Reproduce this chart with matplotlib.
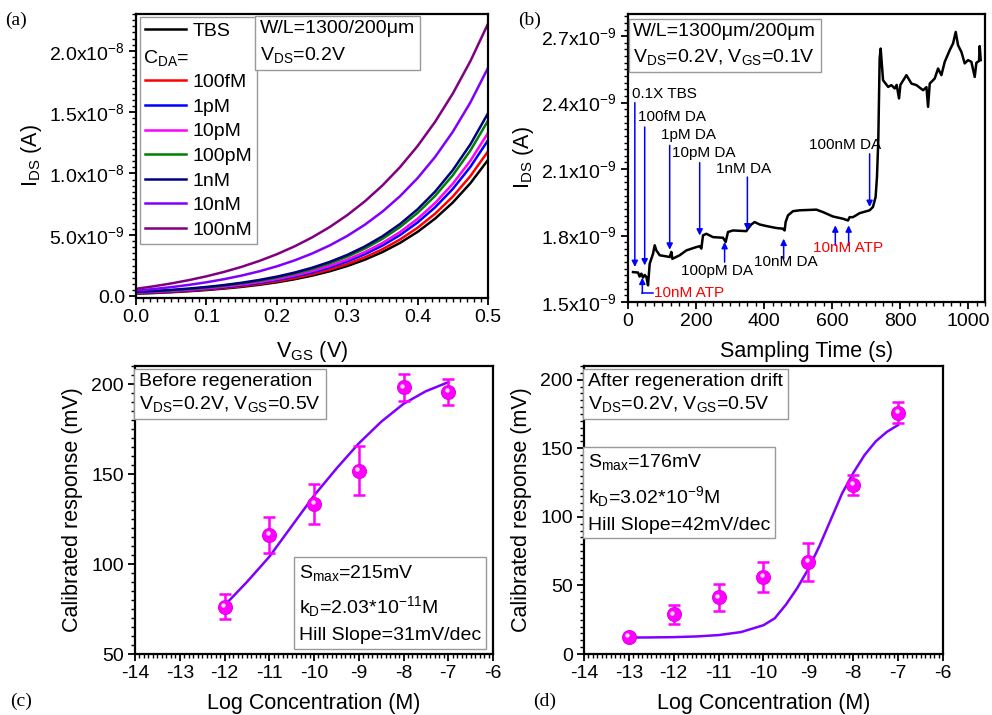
import matplotlib
matplotlib.use('Agg')
import matplotlib.pyplot as plt
from matplotlib.ticker import AutoMinorLocator, FuncFormatter, MultipleLocator
from matplotlib.lines import Line2D
from matplotlib.transforms import offset_copy

plt.rcParams['font.family'] = ['Liberation Sans', 'DejaVu Sans']
plt.rcParams['mathtext.fontset'] = 'custom'
plt.rcParams['mathtext.rm'] = 'Liberation Sans'
plt.rcParams['mathtext.it'] = 'Liberation Sans'
plt.rcParams['mathtext.bf'] = 'Liberation Sans:bold'
plt.rcParams['axes.unicode_minus'] = False

# ---- (a) transfer curves, I_DS in units of 1e-9 A ----
vgs = [0.0, 0.025, 0.05, 0.075, 0.1, 0.125, 0.15, 0.175, 0.2, 0.225, 0.25,
       0.275, 0.3, 0.325, 0.35, 0.375, 0.4, 0.425, 0.45, 0.475, 0.5]
ids_curves = {
    'TBS':   [0.200, 0.256, 0.322, 0.403, 0.500, 0.617, 0.757, 0.926, 1.130, 1.376, 1.671,
              2.027, 2.455, 2.971, 3.593, 4.341, 5.242, 6.327, 7.633, 9.206, 11.100],
    '100fM': [0.220, 0.279, 0.350, 0.436, 0.539, 0.663, 0.812, 0.992, 1.208, 1.469, 1.783,
              2.161, 2.616, 3.164, 3.824, 4.619, 5.576, 6.729, 8.116, 9.788, 11.800],
    '1pM':   [0.250, 0.313, 0.390, 0.482, 0.593, 0.726, 0.886, 1.080, 1.312, 1.593, 1.930,
              2.337, 2.826, 3.416, 4.125, 4.980, 6.009, 7.248, 8.740, 10.537, 12.700],
    '10pM':  [0.280, 0.346, 0.426, 0.522, 0.638, 0.778, 0.946, 1.148, 1.391, 1.684, 2.037,
              2.462, 2.974, 3.591, 4.333, 5.226, 6.302, 7.598, 9.158, 11.038, 13.300],
    '100pM': [0.320, 0.391, 0.477, 0.580, 0.705, 0.854, 1.035, 1.252, 1.513, 1.828, 2.207,
              2.663, 3.213, 3.875, 4.671, 5.631, 6.786, 8.178, 9.853, 11.871, 14.300],
    '1nM':   [0.350, 0.424, 0.513, 0.621, 0.750, 0.906, 1.094, 1.320, 1.592, 1.919, 2.314,
              2.789, 3.361, 4.050, 4.879, 5.877, 7.080, 8.528, 10.272, 12.372, 14.900],
    '10nM':  [0.450, 0.582, 0.737, 0.919, 1.132, 1.384, 1.679, 2.025, 2.432, 2.911, 3.472,
              4.132, 4.908, 5.819, 6.888, 8.145, 9.622, 11.356, 13.394, 15.788, 18.600],
    '100nM': [0.600, 0.803, 1.037, 1.307, 1.618, 1.977, 2.390, 2.868, 3.418, 4.053, 4.785,
              5.629, 6.603, 7.725, 9.020, 10.514, 12.236, 14.222, 16.512, 19.154, 22.200],
}
curve_colors = ['black', '#ff0000', '#0000ff', '#ff00ff', '#008000',
                '#000080', '#8000ff', '#800080']

# ---- (b) real-time trace, current in 1e-9 A ----
trace_t = [14.7, 29.4, 34, 39.2, 44, 49, 53.9, 58.8, 63.7, 73.5, 78.4, 83.3,
           93.1, 112.7, 122.5, 127.4, 130.3, 151.9, 171.5, 200.9, 210.7,
           215.6, 220.5, 230.3, 249.9, 279.3, 287.1, 294, 308.7, 347.9,
           352.8, 362.6, 372.4, 387.1, 406.7, 436.1, 455.7, 460.6, 463.5,
           470.4, 485.1, 504.7, 553.7, 573.3, 602.7, 632.1, 646.8, 651.7,
           661.5, 681.1, 710.5, 720.3, 728.1, 732.1, 736, 740, 743, 750,
           765, 774.6, 784.4, 790, 797, 801, 818.8, 833.5, 848.2, 867.8,
           877.6, 882.4, 887.3, 902, 911.8, 921.6, 931.4, 946.1, 955.9,
           963.7, 970.6, 980.4, 990.2, 1000, 1009.8, 1019.6, 1024.5,
           1032.3, 1034.3, 1037.2]
trace_i = [1.635, 1.633, 1.615, 1.628, 1.610, 1.622, 1.613, 1.575, 1.673,
           1.718, 1.756, 1.733, 1.711, 1.706, 1.703, 1.726, 1.695, 1.711,
           1.733, 1.748, 1.752, 1.741, 1.801, 1.808, 1.793, 1.790, 1.771,
           1.816, 1.823, 1.820, 1.831, 1.850, 1.861, 1.850, 1.843, 1.834,
           1.831, 1.823, 1.861, 1.891, 1.910, 1.914, 1.917, 1.906, 1.886,
           1.876, 1.868, 1.883, 1.883, 1.901, 1.914, 1.929, 1.974, 2.064,
           2.229, 2.600, 2.644, 2.501, 2.471, 2.479, 2.464, 2.480, 2.419,
           2.480, 2.524, 2.486, 2.479, 2.456, 2.470, 2.381, 2.486, 2.509,
           2.554, 2.524, 2.584, 2.637, 2.667, 2.719, 2.659, 2.629, 2.577,
           2.592, 2.584, 2.516, 2.580, 2.588, 2.655, 2.592]

# downward arrows: (time, tail, tip, label, label_t, label_i)
down_arrows = [
    (20, 2.40, 1.658, '0.1X TBS', 11, 2.438),
    (49, 2.29, 1.665, '100fM DA', 28, 2.334),
    (122.5, 2.207, 1.736, '1pM DA', 96, 2.253),
    (210.7, 2.129, 1.800, '10pM DA', 128.5, 2.172),
    (351, 2.064, 1.823, '1nM DA', 258, 2.100),
    (710.5, 2.169, 1.929, '100nM DA', 531, 2.208),
]
# upward arrows: (time, tail, tip)
up_arrows_blue = [(284, 1.680, 1.771), (457.7, 1.695, 1.786)]
up_arrows_red = [(42, 1.539, 1.610), (609.6, 1.756, 1.846), (648.8, 1.756, 1.846)]
up_labels = [('100pM DA', 157, 1.640, 'black'), ('10nM DA', 370, 1.680, 'black'),
             ('10nM ATP', 76.5, 1.541, 'red'), ('10nM ATP', 543, 1.744, 'red')]

# ---- (c) before regeneration ----
c_logc = [-12, -11, -10, -9, -8, -7]
c_resp = [76.3, 116.3, 133.5, 151.9, 198.1, 195.6]
c_err = [7.0, 10.0, 11.0, 13.5, 7.5, 7.3]
c_fit_x = [-12, -11.5, -11, -10.5, -10, -9.5, -9, -8.5, -8, -7.5, -7]
c_fit_y = [77, 90, 104, 121, 138, 153, 167, 179, 189, 196, 201]

# ---- (d) after regeneration drift ----
d_logc = [-13, -12, -11, -10, -9, -8, -7]
d_resp = [12.6, 29.1, 41.3, 56.3, 67.2, 123.3, 176.0]
d_err = [0.0, 7.0, 10.0, 10.8, 13.6, 7.5, 7.5]
d_fit_x = [-13, -12.5, -12, -11.5, -11, -10.5, -10, -9.75, -9.5, -9.25, -9,
           -8.75, -8.5, -8.25, -8, -7.75, -7.5, -7.25, -7]
d_fit_y = [12, 12.1, 12.3, 12.8, 13.8, 16, 21, 26, 36, 48, 62, 79, 98, 117,
           132, 145, 155, 162, 167]

FS = 14
LFS = 15.5
fig = plt.figure(figsize=(9.92, 7.15), dpi=100)
ax_a = fig.add_axes([0.1371, 0.5832, 0.3548, 0.3972])
ax_b = fig.add_axes([0.6331, 0.5776, 0.3599, 0.4028])
ax_c = fig.add_axes([0.1361, 0.0853, 0.3609, 0.4028])
ax_d = fig.add_axes([0.5887, 0.0853, 0.3619, 0.4028])


def style(ax, xminor, yminor):
    for s in ax.spines.values():
        s.set_linewidth(1.6)
    ax.tick_params(which='both', direction='out', top=False, right=False,
                   labelsize=FS, width=1.3, pad=3)
    ax.tick_params(which='major', length=5)
    ax.tick_params(which='minor', length=3, width=1.0)
    ax.xaxis.set_minor_locator(AutoMinorLocator(xminor))
    ax.yaxis.set_minor_locator(AutoMinorLocator(yminor))


box = dict(boxstyle='square,pad=0.25', fc='white', ec='#999999', lw=1)

# (a)
for (name, vals), col in zip(ids_curves.items(), curve_colors):
    ax_a.plot(vgs, [v * 1e-9 for v in vals], color=col, lw=1.8, label=name)
ax_a.set_xlim(0, 0.5)
ax_a.set_ylim(-1.5e-10, 2.3e-8)
ax_a.xaxis.set_major_locator(MultipleLocator(0.1))
ax_a.yaxis.set_major_locator(MultipleLocator(5e-9))
ax_a.yaxis.set_major_formatter(FuncFormatter(
    lambda v, p: '0.0' if abs(v) < 1e-20 else
    (r'%.1fx10$^{-9}$' % (v * 1e9) if v < 9e-9 else r'%.1fx10$^{-8}$' % (v * 1e8))))
ax_a.xaxis.set_major_formatter(FuncFormatter(lambda v, p: '%.1f' % v))
style(ax_a, 10, 10)
ax_a.set_xlabel(r'V$_{GS}$ (V)', fontsize=LFS, labelpad=9)
ax_a.set_ylabel(r'I$_{DS}$ (A)', fontsize=LFS, labelpad=4)
handles, labels = ax_a.get_legend_handles_labels()
blank = Line2D([], [], color='none')
handles = [handles[0], blank] + handles[1:]
labels = [labels[0], r'$\mathregular{C_{DA}}$'] + labels[1:]
leg = ax_a.legend(handles, labels, loc='upper left', bbox_to_anchor=(0.011, 0.989),
                  borderaxespad=0, fontsize=FS, handlelength=2.1, handletextpad=0.35,
                  labelspacing=0.36, borderpad=0.25, fancybox=False, framealpha=1,
                  edgecolor='#999999')
leg.get_frame().set_linewidth(1)
leg.get_texts()[1].set_color('none')
ax_a.text(0.02, 0.845, r'C$_{DA}$=', transform=ax_a.transAxes, fontsize=FS,
          va='center', ha='left', zorder=10)
ax_a.text(0.352, 0.978, 'W/L=1300/200\u03bcm\n' + r'V$_{DS}$=0.2V', transform=ax_a.transAxes,
          fontsize=FS, va='top', ha='left', bbox=box, linespacing=1.5, zorder=6)

# (b)
ax_b.plot(trace_t, [v * 1e-9 for v in trace_i], color='black', lw=1.8)
for t, tail, tip, lab, lt, li in down_arrows:
    ax_b.annotate('', xy=(t, tip * 1e-9), xytext=(t, tail * 1e-9),
                  arrowprops=dict(arrowstyle='-|>', color='blue', lw=1.1,
                                  mutation_scale=9, shrinkA=0, shrinkB=0))
    ax_b.text(lt, li * 1e-9, lab, fontsize=11, ha='left', va='center')
for t, tail, tip in up_arrows_blue + up_arrows_red:
    ax_b.annotate('', xy=(t, tip * 1e-9), xytext=(t, tail * 1e-9),
                  arrowprops=dict(arrowstyle='-|>', color='blue', lw=1.1,
                                  mutation_scale=9, shrinkA=0, shrinkB=0))
ax_b.plot([up_arrows_red[0][0], 74], [up_arrows_red[0][1] * 1e-9] * 2, color='blue', lw=1.1)
for lab, lt, li, col in up_labels:
    ax_b.text(lt, li * 1e-9, lab, fontsize=11, ha='left', va='center', color=col)
ax_b.set_xlim(0, 1050)
ax_b.set_ylim(1.5e-9, 2.8e-9)
ax_b.xaxis.set_major_locator(MultipleLocator(200))
ax_b.yaxis.set_major_locator(MultipleLocator(0.3e-9))
ax_b.yaxis.set_major_formatter(FuncFormatter(lambda v, p: r'%.1fx10$^{-9}$' % (v * 1e9)))
style(ax_b, 8, 10)
ax_b.set_xlabel('Sampling Time (s)', fontsize=LFS, labelpad=8)
ax_b.set_ylabel(r'I$_{DS}$ (A)', fontsize=LFS, labelpad=4)
ax_b.text(0.015, 0.97, 'W/L=1300\u03bcm/200\u03bcm\n' + r'V$_{DS}$=0.2V, V$_{GS}$=0.1V',
          transform=ax_b.transAxes, fontsize=FS, va='top', ha='left', bbox=box,
          linespacing=1.5)


def calib(ax, x, y, err, fx, fy):
    ax.plot(fx, fy, color='#7f00ff', lw=1.8, zorder=2)
    ax.errorbar(x, y, yerr=err, fmt='none', ecolor='#ff00ff', elinewidth=1.8,
                capsize=4.5, capthick=1.8, zorder=3)
    ax.plot(x, y, 'o', color='#ff00ff', ms=10, mec='#e600e6', mew=0.8, zorder=4)
    hi = offset_copy(ax.transData, fig=fig, x=-1.5, y=1.5, units='dots')
    ax.plot(x, y, 'o', color='#ffd8ff', ms=3.2, mec='none', zorder=5, transform=hi)
    ax.set_xlim(-14, -6)
    ax.xaxis.set_major_locator(MultipleLocator(1))
    ax.yaxis.set_major_locator(MultipleLocator(50))
    style(ax, 10, 10)
    ax.set_xlabel('Log Concentration (M)', fontsize=LFS, labelpad=8)
    ax.set_ylabel('Calibrated response (mV)', fontsize=LFS, labelpad=6)


# (c)
calib(ax_c, c_logc, c_resp, c_err, c_fit_x, c_fit_y)
ax_c.set_ylim(50, 210)
ax_c.text(0.012, 0.975, 'Before regeneration\n' + r'V$_{DS}$=0.2V, V$_{GS}$=0.5V',
          transform=ax_c.transAxes, fontsize=FS, va='top', ha='left', bbox=box,
          linespacing=1.25)
ax_c.text(0.457, 0.035, r'S$_{max}$=215mV' + '\n' + r'k$_{D}$=2.03*10$^{-11}$M' + '\nHill Slope=31mV/dec',
          transform=ax_c.transAxes, fontsize=FS, va='bottom', ha='left', bbox=box,
          linespacing=1.6)

# (d)
calib(ax_d, d_logc, d_resp, d_err, d_fit_x, d_fit_y)
ax_d.set_ylim(0, 210)
ax_d.text(0.012, 0.975, 'After regeneration drift\n' + r'V$_{DS}$=0.2V, V$_{GS}$=0.5V',
          transform=ax_d.transAxes, fontsize=FS, va='top', ha='left', bbox=box,
          linespacing=1.25)
ax_d.text(0.012, 0.70, r'S$_{max}$=176mV' + '\n' + r'k$_{D}$=3.02*10$^{-9}$M' + '\nHill Slope=42mV/dec',
          transform=ax_d.transAxes, fontsize=FS, va='top', ha='left', bbox=box,
          linespacing=1.6)

# panel letters
for lab, x, y in [('(a)', 0.005, 0.965), ('(b)', 0.522, 0.965),
                  ('(c)', 0.01, 0.013), ('(d)', 0.537, 0.013)]:
    fig.text(x, y, lab, fontsize=FS, family='Liberation Serif')

fig.savefig('out.png', dpi=100)
